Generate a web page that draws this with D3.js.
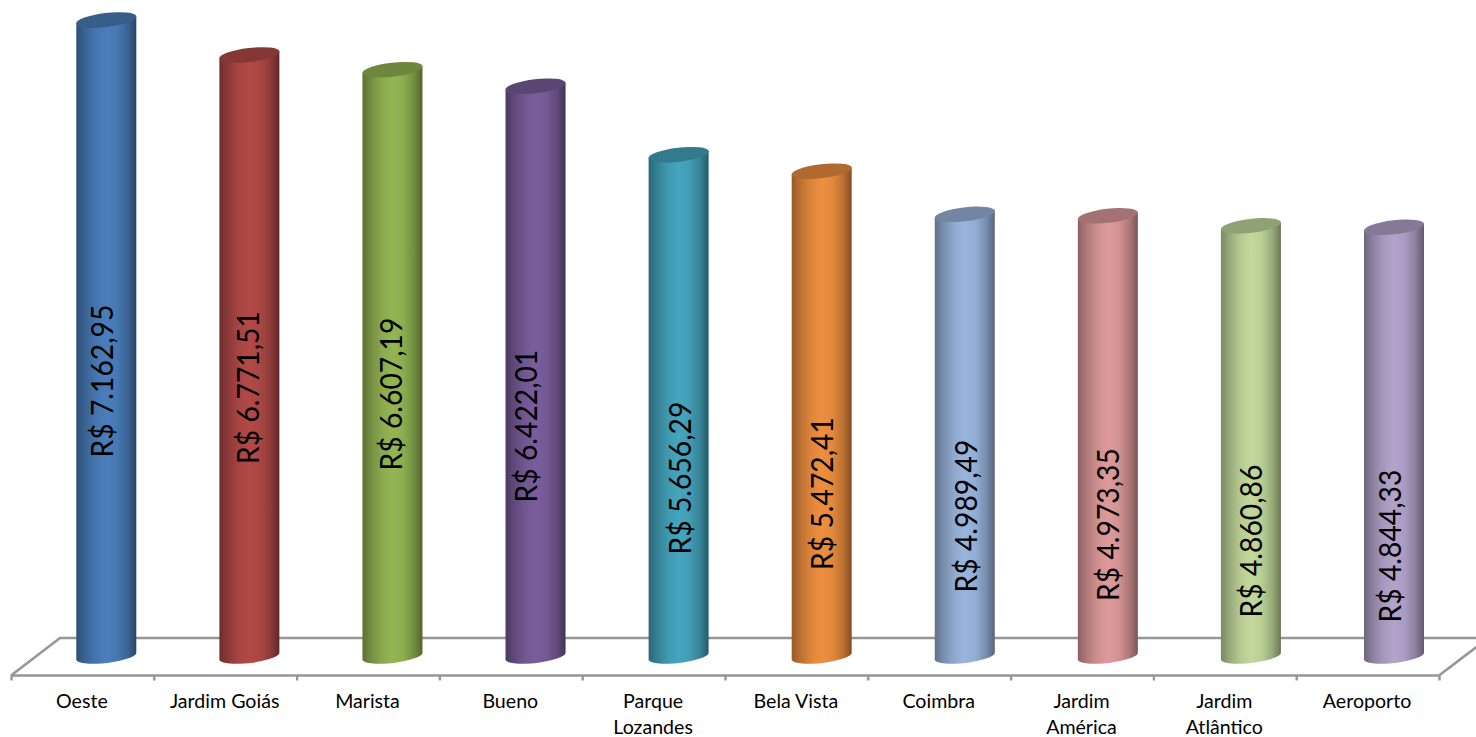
<!DOCTYPE html>
<html><head><meta charset="utf-8">
<style>html,body{margin:0;padding:0;background:#fff;overflow:hidden}svg{display:block}</style>
<script src="https://cdn.jsdelivr.net/npm/d3@7/dist/d3.min.js"></script>
</head><body>
<svg id="c" width="1476" height="737"></svg>
<script>
const categories = ["Oeste","Jardim Goiás","Marista","Bueno","Parque Lozandes","Bela Vista","Coimbra","Jardim América","Jardim Atlântico","Aeroporto"];
const values = [7162.95,6771.51,6607.19,6422.01,5656.29,5472.41,4989.49,4973.35,4860.86,4844.33];
const valueLabels = ["R$ 7.162,95","R$ 6.771,51","R$ 6.607,19","R$ 6.422,01","R$ 5.656,29","R$ 5.472,41","R$ 4.989,49","R$ 4.973,35","R$ 4.860,86","R$ 4.844,33"];
const barColors = ["#4a7ebb","#b24a47","#93b653","#7a5e9c","#45a5be","#ee8f3f","#9ab5dd","#de9a9a","#c3d99b","#b3a3cb"];

const svg = d3.select("#c");
const W = 1476, H = 737;
const frontY = 675.5, backY = 638, x0 = 11, x1 = 1439;
const x = d3.scaleBand().domain(categories).range([x0, x1]);
const barX = d3.scalePoint().domain(categories).range([106.3, 1394]);
const y = d3.scaleLinear().domain([0, 7162.95]).range([660.5, 20]);
const baseY = 656.5;
const grey = "#969696";

const defs = svg.append("defs");
const floor = svg.append("g").attr("fill","none").attr("stroke",grey).attr("stroke-width",2.6);
floor.append("path").attr("d",`M${x0},${frontY}L60,${backY}H${W}`);
floor.append("path").attr("d",`M${x1},${frontY}L${W+1},${frontY-28.8}`);

const edge = d3.scaleLinear().domain([0,categories.length]).range([x0,x1]);
const axis = d3.axisBottom(edge).tickValues(d3.range(categories.length+1)).tickSize(5).tickSizeOuter(0).tickFormat("");
const gAxis = svg.append("g").attr("transform",`translate(0,${frontY})`).call(axis);
gAxis.selectAll("path,line").attr("stroke",grey).attr("stroke-width",2.4);
gAxis.select("path").attr("d",`M${x0},0H${x1}`);

const rx = 30.3, ry = 7, tilt = -6.6, halfW = 30, dy = 3.6;
const marks = categories.map((c,i)=>({c,v:values[i],label:valueLabels[i],col:barColors[i],i}));
marks.forEach(d=>{
  const base = d3.color(d.col);
  const g = defs.append("linearGradient").attr("id","g"+d.i).attr("x1",0).attr("x2",1).attr("y1",0).attr("y2",0);
  [[0,.62],[.12,.76],[.32,.93],[.5,1],[.68,.95],[.86,.78],[1,.55]].forEach(([o,k])=>{
    g.append("stop").attr("offset",o).attr("stop-color",d3.rgb(base.r*k,base.g*k,base.b*k));
  });
});
const bars = svg.append("g").selectAll("g").data(marks).join("g")
  .attr("transform",d=>`translate(${barX(d.c)},0)`);
bars.append("path").attr("fill",d=>`url(#g${d.i})`)
  .attr("d",d=>`M${-halfW},${y(d.v)+dy}L${-halfW},${baseY+dy}A${rx},${ry} ${tilt} 0 0 ${halfW},${baseY-dy}L${halfW},${y(d.v)-dy}Z`);
bars.append("ellipse").attr("rx",rx).attr("ry",ry)
  .attr("transform",d=>`translate(0,${y(d.v)}) rotate(${tilt})`)
  .attr("fill",d=>{const b=d3.color(d.col);return d3.rgb(b.r*.74,b.g*.74,b.b*.74);});

// value labels sit where the original placed them: baseline x and centre y per bar
const labelBaselines = [112.7,259,401.7,536.7,690.7,833.3,976.7,1119,1261.7,1401];
const labelCentres = [381,387.5,394,426,478,493.5,516,524.5,541,546];
svg.append("g").selectAll("text").data(marks).join("text")
  .attr("transform",d=>`translate(${labelBaselines[d.i]},${labelCentres[d.i]}) rotate(-90) scale(0.93,1)`)
  .attr("text-anchor","middle")
  .attr("font-family","Lato, 'Open Sans', sans-serif").attr("font-size",30.4).attr("fill","#000")
  .text(d=>d.label);

const catG = svg.append("g").selectAll("text").data(categories).join("text")
  .attr("text-anchor","middle").attr("font-family","Lato, 'Open Sans', sans-serif").attr("font-size",19.6).attr("fill","#000");
catG.each(function(c){
  const words = /^(Parque|Jardim A)/.test(c) ? c.split(" ") : [c];
  d3.select(this).selectAll("tspan").data(words).join("tspan")
    .attr("x",x(c)+x.bandwidth()/2-0.5).attr("y",(_,i)=>708+i*26).text(w=>w);
});
</script>
</body></html>
